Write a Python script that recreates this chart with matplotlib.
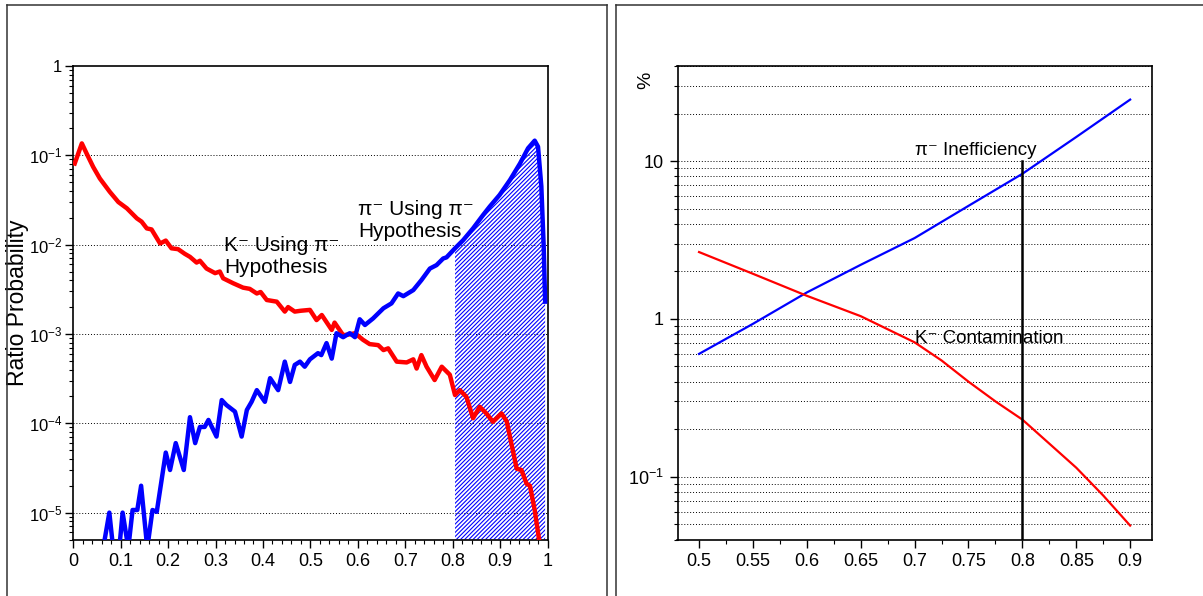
import numpy as np
import matplotlib
matplotlib.use("Agg")
import matplotlib.pyplot as plt
from matplotlib.ticker import FixedLocator, FixedFormatter, MultipleLocator, LogLocator, NullFormatter
from matplotlib.lines import Line2D

plt.rcParams['font.family'] = ['Liberation Sans', 'DejaVu Sans']
plt.rcParams['mathtext.fontset'] = 'custom'
plt.rcParams['mathtext.rm'] = 'Liberation Sans'
plt.rcParams['mathtext.it'] = 'Liberation Sans:italic'
plt.rcParams['mathtext.bf'] = 'Liberation Sans:bold'
plt.rcParams['hatch.linewidth'] = 0.8

# ---- left panel: ratio probability distributions ----
kaon_x = [0.003, 0.018, 0.028, 0.042, 0.056, 0.077, 0.095, 0.113, 0.134, 0.144,
          0.155, 0.165, 0.183, 0.195, 0.207, 0.221, 0.235, 0.246, 0.260, 0.267,
          0.281, 0.299, 0.309, 0.316, 0.337, 0.358, 0.372, 0.387, 0.395, 0.408,
          0.429, 0.446, 0.453, 0.467, 0.480, 0.499, 0.513, 0.524, 0.545, 0.551,
          0.569, 0.583, 0.594, 0.611, 0.625, 0.643, 0.654, 0.664, 0.682, 0.703,
          0.717, 0.724, 0.734, 0.745, 0.762, 0.777, 0.794, 0.805, 0.815, 0.829,
          0.843, 0.857, 0.871, 0.885, 0.903, 0.914, 0.935, 0.945, 0.956, 0.963,
          0.973, 0.982, 0.986]
kaon_p = [8.1e-2, 1.36e-1, 1.05e-1, 7.4e-2, 5.5e-2, 3.9e-2, 3.0e-2, 2.55e-2, 1.97e-2, 1.81e-2,
          1.52e-2, 1.48e-2, 1.03e-2, 1.11e-2, 9.1e-3, 8.9e-3, 7.9e-3, 7.3e-3, 6.3e-3, 6.6e-3,
          5.4e-3, 4.8e-3, 5.0e-3, 4.2e-3, 3.7e-3, 3.3e-3, 3.2e-3, 2.84e-3, 2.95e-3, 2.4e-3,
          2.3e-3, 1.78e-3, 2.0e-3, 1.78e-3, 1.82e-3, 1.86e-3, 1.43e-3, 1.63e-3, 1.11e-3, 1.34e-3,
          9.7e-4, 9.9e-4, 1.02e-3, 8.6e-4, 7.7e-4, 7.5e-4, 6.6e-4, 6.9e-4, 4.9e-4, 4.8e-4,
          5.2e-4, 4.1e-4, 5.8e-4, 4.3e-4, 3.05e-4, 4.3e-4, 3.5e-4, 2.07e-4, 2.35e-4, 1.98e-4,
          1.14e-4, 1.53e-4, 1.29e-4, 1.04e-4, 1.29e-4, 1.05e-4, 3.1e-5, 3.0e-5, 2.1e-5, 2.0e-5,
          1.07e-5, 5.1e-6, 3.2e-6]

pion_x = [0.063, 0.076, 0.084, 0.097, 0.104, 0.116, 0.125, 0.135, 0.143, 0.156,
          0.167, 0.176, 0.195, 0.204, 0.216, 0.233, 0.246, 0.257, 0.267, 0.277,
          0.285, 0.302, 0.313, 0.323, 0.341, 0.355, 0.366, 0.376, 0.387, 0.404,
          0.415, 0.432, 0.446, 0.457, 0.467, 0.478, 0.488, 0.499, 0.516, 0.523,
          0.534, 0.545, 0.555, 0.569, 0.583, 0.594, 0.604, 0.615, 0.632, 0.654,
          0.671, 0.685, 0.696, 0.717, 0.734, 0.752, 0.766, 0.780, 0.787, 0.805,
          0.822, 0.843, 0.864, 0.878, 0.899, 0.921, 0.942, 0.959, 0.973, 0.980,
          0.987, 0.992, 0.995]
pion_p = [4e-6, 1.0e-5, 4e-6, 4e-6, 1.0e-5, 4e-6, 1.07e-5, 1.07e-5, 2.0e-5, 4e-6,
          1.07e-5, 1.02e-5, 4.7e-5, 3.0e-5, 6.0e-5, 3.0e-5, 1.17e-4, 6.0e-5, 9.1e-5, 9.1e-5,
          1.09e-4, 7.1e-5, 1.82e-4, 1.6e-4, 1.35e-4, 7.1e-5, 1.41e-4, 1.74e-4, 2.35e-4, 1.74e-4,
          3.2e-4, 2.35e-4, 4.9e-4, 2.9e-4, 4.5e-4, 4.9e-4, 4.3e-4, 5.2e-4, 6.1e-4, 5.8e-4,
          7.9e-4, 5.3e-4, 1.02e-3, 9.2e-4, 1.02e-3, 9.2e-4, 1.46e-3, 1.26e-3, 1.49e-3, 1.94e-3,
          2.2e-3, 2.84e-3, 2.65e-3, 3.1e-3, 4.0e-3, 5.4e-3, 5.9e-3, 7.0e-3, 7.2e-3, 9.1e-3,
          1.12e-2, 1.52e-2, 2.14e-2, 2.66e-2, 3.6e-2, 5.3e-2, 8.1e-2, 1.2e-1, 1.46e-1, 1.25e-1,
          4.5e-2, 9.5e-3, 2.3e-3]

cut_value = 0.805

left_xticks = [0, 0.1, 0.2, 0.3, 0.4, 0.5, 0.6, 0.7, 0.8, 0.9, 1]
left_xticklabels = ['0', '0.1', '0.2', '0.3', '0.4', '0.5', '0.6', '0.7', '0.8', '0.9', '1']
left_yticks = [1, 1e-1, 1e-2, 1e-3, 1e-4, 1e-5]
left_yticklabels = ['1', r'$10^{-1}$', r'$10^{-2}$', r'$10^{-3}$', r'$10^{-4}$', r'$10^{-5}$']

# ---- right panel: efficiency vs. cut ----
ineff_x = [0.5, 0.55, 0.6, 0.65, 0.7, 0.75, 0.8, 0.85, 0.9]
pion_ineff = [0.60, 0.93, 1.47, 2.2, 3.25, 5.2, 8.3, 14.2, 24.5]
contam_x = [0.5, 0.55, 0.6, 0.65, 0.7, 0.725, 0.75, 0.775, 0.8, 0.825, 0.85, 0.875, 0.9]
kaon_contam = [2.65, 1.93, 1.40, 1.04, 0.71, 0.545, 0.40, 0.30, 0.23, 0.162, 0.114, 0.076, 0.049]
chosen_cut = 0.8

right_xticks = [0.5, 0.55, 0.6, 0.65, 0.7, 0.75, 0.8, 0.85, 0.9]
right_xticklabels = ['0.5', '0.55', '0.6', '0.65', '0.7', '0.75', '0.8', '0.85', '0.9']
right_yticks = [0.1, 1, 10]
right_yticklabels = [r'$10^{-1}$', '1', '10']

W, H = 1203, 596
fig = plt.figure(figsize=(W / 100, H / 100), dpi=100)
fig.patch.set_facecolor('white')

def px_rect(x0, x1, ytop, ybot):
    return [x0 / W, 1 - ybot / H, (x1 - x0) / W, (ybot - ytop) / H]

ax1 = fig.add_axes(px_rect(73.3, 547.5, 66, 539.5))
ax2 = fig.add_axes(px_rect(677.5, 1151.7, 66, 539.5))

grid_kw = dict(color='black', linestyle=(0, (1, 2)), linewidth=0.7)

# left panel
ax1.set_yscale('log')
ax1.set_xlim(0, 1)
ax1.set_ylim(5e-6, 1)
pion_x_arr = np.array(pion_x)
ax1.fill_between(pion_x, pion_p, 5e-6, where=pion_x_arr >= cut_value,
                 facecolor='none', edgecolor='#0000FF', hatch='////////', linewidth=0, zorder=1)
ax1.plot(kaon_x, kaon_p, color='#FF0000', linewidth=3.2, zorder=3, solid_joinstyle='round')
ax1.plot(pion_x, pion_p, color='#0000FF', linewidth=3.2, zorder=3, solid_joinstyle='round')
ax1.xaxis.set_major_locator(FixedLocator(left_xticks))
ax1.xaxis.set_major_formatter(FixedFormatter(left_xticklabels))
ax1.xaxis.set_minor_locator(MultipleLocator(0.02))
ax1.yaxis.set_major_locator(FixedLocator(left_yticks))
ax1.yaxis.set_major_formatter(FixedFormatter(left_yticklabels))
ax1.yaxis.set_minor_locator(LogLocator(base=10, subs=np.arange(2, 10)))
ax1.yaxis.set_minor_formatter(NullFormatter())
for v in left_yticks[1:]:
    ax1.axhline(v, zorder=0, **grid_kw)
ax1.set_ylabel('Ratio Probability', fontsize=16.5)
ax1.yaxis.set_label_coords(-0.094, 0.5)
ax1.text(0.60, 0.716, 'π⁻ Using π⁻\nHypothesis', transform=ax1.transAxes,
         fontsize=15, ha='left', va='top', linespacing=1.15)
ax1.text(0.318, 0.64, 'K⁻ Using π⁻\nHypothesis', transform=ax1.transAxes,
         fontsize=15, ha='left', va='top', linespacing=1.15)

# right panel
ax2.set_yscale('log')
ax2.set_xlim(0.48, 0.92)
ax2.set_ylim(0.04, 40)
ax2.yaxis.set_major_locator(FixedLocator(right_yticks))
ax2.yaxis.set_major_formatter(FixedFormatter(right_yticklabels))
ax2.yaxis.set_minor_locator(LogLocator(base=10, subs=np.arange(2, 10)))
ax2.yaxis.set_minor_formatter(NullFormatter())
ax2.xaxis.set_major_locator(FixedLocator(right_xticks))
ax2.xaxis.set_major_formatter(FixedFormatter(right_xticklabels))
ax2.xaxis.set_minor_locator(MultipleLocator(0.025))
ax2.grid(True, which='both', axis='y', **grid_kw)
ax2.set_axisbelow(True)
ax2.plot(ineff_x, pion_ineff, color='#0000FF', linewidth=1.6, zorder=3)
ax2.plot(contam_x, kaon_contam, color='#FF0000', linewidth=1.6, zorder=3)
ax2.plot([chosen_cut, chosen_cut], [0.04, 10], color='black', linewidth=1.8, zorder=4)
ax2.text(0.700, 10.3, 'π⁻ Inefficiency', fontsize=13.5, ha='left', va='bottom')
ax2.text(0.700, 0.70, 'K⁻ Contamination', fontsize=13.5, ha='left', va='baseline')
ax2.text(-0.068, 0.97, '%', transform=ax2.transAxes, fontsize=14, rotation=90,
         ha='center', va='center')

for ax in (ax1, ax2):
    for s in ax.spines.values():
        s.set_linewidth(1.2)
        s.set_color('black')
    ax.tick_params(which='major', direction='out', length=6, width=1.0, labelsize=13, pad=4)
    ax.tick_params(which='minor', direction='out', length=3, width=0.8)
ax1.tick_params(axis='y', which='major', labelsize=12, pad=2)

# panel frames
frame_kw = dict(color='#333333', linewidth=1.1, transform=fig.transFigure, clip_on=False)
def fx(p):
    return p / W
def fy(p):
    return 1 - p / H
fig.add_artist(Line2D([fx(7), fx(7)], [fy(5), -0.1], **frame_kw))
fig.add_artist(Line2D([fx(7), fx(607)], [fy(5), fy(5)], **frame_kw))
fig.add_artist(Line2D([fx(607), fx(607)], [fy(5), -0.1], **frame_kw))
fig.add_artist(Line2D([fx(616), fx(616)], [fy(5), -0.1], **frame_kw))
fig.add_artist(Line2D([fx(616), 1.1], [fy(5), fy(5)], **frame_kw))

fig.savefig('out.png', dpi=100, facecolor='white')
